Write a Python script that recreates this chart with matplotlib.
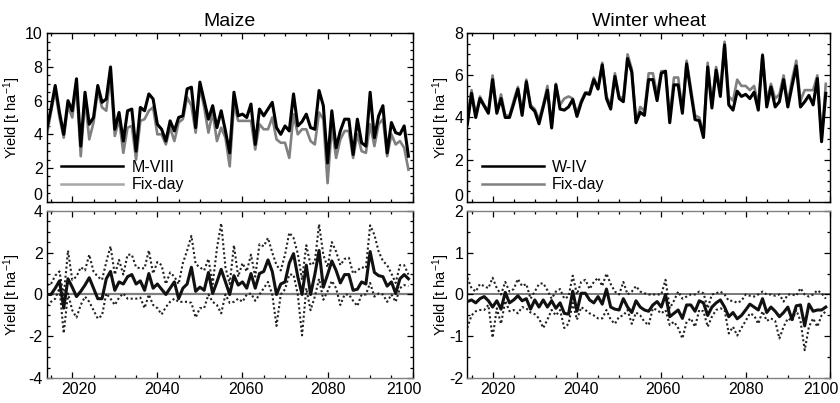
import numpy as np
import matplotlib
matplotlib.use("Agg")
import matplotlib.pyplot as plt
import matplotlib.ticker as ticker
from matplotlib.lines import Line2D
from matplotlib.transforms import ScaledTranslation

plt.rcParams['font.family'] = ['Liberation Sans', 'DejaVu Sans']
plt.rcParams['mathtext.default'] = 'regular'

# ---- data ----
years = np.arange(2014, 2100)

maize_mviii = [4.3, 5.5, 6.9, 5.3, 4.0, 6.0, 5.4, 7.3, 3.3, 6.5,
               4.6, 5.0, 6.9, 5.9, 6.1, 8.0, 4.3, 5.3, 3.6, 5.4,
               5.5, 3.0, 5.6, 5.4, 6.4, 6.1, 4.6, 4.3, 3.6, 4.8,
               4.2, 5.0, 5.1, 6.7, 6.8, 4.4, 7.1, 6.0, 4.9, 5.7,
               4.4, 5.4, 4.2, 2.9, 6.5, 5.1, 5.2, 5.0, 5.8, 3.4,
               5.5, 5.1, 5.5, 5.9, 4.4, 4.0, 4.5, 4.2, 6.4, 4.5,
               4.75, 5.2, 4.4, 4.3, 6.6, 5.7, 2.3, 5.4, 3.2, 4.2,
               4.9, 4.9, 2.8, 4.9, 3.5, 3.3, 6.5, 3.8, 5.1, 5.7,
               2.9, 4.7, 4.1, 4.0, 4.5, 2.7]
maize_fixday = [3.9, 5.3, 6.6, 5.0, 3.8, 5.7, 5.0, 6.9, 2.7, 6.1,
                3.7, 4.7, 6.6, 5.6, 5.4, 7.5, 3.9, 4.9, 2.9, 4.4,
                4.5, 2.5, 4.8, 4.9, 5.4, 5.6, 4.0, 4.0, 3.4, 4.4,
                3.6, 4.7, 4.9, 6.2, 5.7, 4.1, 6.8, 5.6, 4.1, 5.3,
                3.6, 4.4, 3.8, 2.1, 5.8, 4.8, 4.8, 4.8, 4.8, 3.1,
                4.6, 4.3, 4.3, 5.0, 3.7, 3.5, 3.5, 2.6, 5.2, 4.0,
                4.3, 4.3, 3.6, 3.4, 5.3, 4.9, 1.1, 4.5, 2.6, 3.7,
                4.2, 4.2, 2.6, 4.0, 3.0, 2.9, 4.6, 3.3, 4.6, 4.9,
                2.7, 4.0, 3.4, 3.6, 3.2, 1.9]
maize_diff = [0.0, 0.0, 0.3, 0.65, -0.65, 0.75, 0.35, -0.1, 0.15, 0.45,
              0.8, 0.3, -0.2, -0.2, 0.75, 1.1, 0.2, 0.6, 0.5, 0.85,
              0.95, 0.5, 0.65, 0.2, 1.0, 0.3, 0.5, 0.25, 0.0, 0.3,
              0.6, -0.2, 0.3, 0.5, 1.3, 0.15, 0.35, 0.2, 1.05, 0.05,
              0.6, 1.2, 0.6, 0.0, 0.9, 0.45, 0.6, 0.3, 1.0, 0.3,
              1.0, 1.1, 1.65, 1.1, 0.0, 0.5, 0.6, 1.5, 1.95, 0.85,
              0.0, 1.4, 0.0, 0.95, 2.1, 0.35, 0.95, 1.6, 1.15, 0.55,
              0.95, 0.95, 0.2, 0.25, 0.6, 0.5, 2.05, 1.05, 0.9, 0.85,
              0.4, 0.6, 0.05, 0.75, 0.95, 0.75]
maize_diff_hi = [0.45, 0.5, 0.9, 1.1, -0.1, 2.1, 0.7, 0.85, 1.3, 1.15,
                 1.9, 1.1, 0.85, 0.7, 1.55, 2.3, 0.95, 1.65, 0.95, 1.9,
                 1.9, 1.3, 1.25, 1.25, 2.1, 1.0, 1.55, 1.4, 0.5, 1.05,
                 0.85, 0.5, 1.5, 2.1, 2.8, 1.45, 1.3, 1.15, 1.7, 0.5,
                 2.2, 3.4, 1.3, 0.5, 2.35, 0.85, 1.5, 1.1, 1.9, 0.85,
                 2.4, 2.3, 2.7, 2.0, 1.4, 1.15, 1.9, 2.95, 2.7, 1.95,
                 0.7, 2.35, 1.4, 1.55, 3.35, 1.9, 1.3, 2.5, 2.05, 1.4,
                 1.7, 1.75, 1.0, 1.15, 1.3, 1.25, 3.3, 2.85, 2.05, 1.6,
                 1.4, 1.0, 0.55, 1.4, 1.4, 0.95]
maize_diff_lo = [-0.5, -0.35, -0.2, 0.3, -1.85, 0.05, -0.75, -1.1, -0.5, -0.1,
                 -0.35, -0.75, -1.15, -1.0, 0.05, -0.2, -0.5, -0.15, 0.05, -0.2,
                 -0.2, -0.2, -0.15, -0.65, 0.0, -0.5, -0.65, -0.95, -0.6, -0.35,
                 -0.2, -0.35, -0.35, -0.35, -0.4, -1.1, -0.65, -0.65, 0.0, -0.35,
                 -0.5, -0.9, 0.0, -0.4, -0.35, -0.2, -0.35, 0.0, 0.05, -0.3,
                 0.0, 0.3, 0.6, 0.0, -1.5, 0.0, 0.25, 0.95, 0.95, 0.0,
                 -1.95, 0.3, -0.75, -0.1, 0.75, -0.25, 0.15, 0.65, 0.3, -0.5,
                 0.0, 0.0, -0.3, -0.55, 0.0, 0.0, 0.55, -0.1, 0.05, 0.0,
                 -0.35, 0.0, -0.35, 0.3, 0.45, 0.4]

wheat_wiv = [3.65, 5.15, 4.0, 4.9, 4.55, 4.2, 5.8, 4.2, 4.9, 4.0,
             4.0, 4.65, 5.35, 4.1, 5.7, 4.5, 4.3, 3.7, 4.5, 5.3,
             3.5, 5.55, 4.4, 4.35, 4.5, 4.85, 4.05, 4.7, 5.15, 5.1,
             5.8, 5.35, 6.5, 4.9, 4.4, 5.95, 4.9, 4.75, 6.8, 6.15,
             3.75, 4.25, 4.1, 5.8, 5.8, 4.8, 6.1, 6.2, 3.75, 5.55,
             5.55, 4.2, 6.55, 5.2, 3.9, 3.85, 3.05, 6.4, 4.45, 6.25,
             5.0, 7.45, 4.6, 4.35, 5.25, 5.0, 5.1, 4.9, 5.2, 4.35,
             6.95, 4.5, 5.45, 4.5, 4.75, 5.8, 4.5, 5.5, 6.45, 4.5,
             4.75, 5.05, 4.6, 5.85, 2.85, 5.15]
wheat_fixday = [3.85, 5.3, 4.1, 5.0, 4.6, 4.3, 6.0, 4.3, 5.1, 4.1,
                4.1, 4.8, 5.45, 4.2, 5.8, 4.6, 4.4, 3.9, 4.6, 5.5,
                3.6, 5.6, 4.6, 4.9, 5.0, 4.9, 4.2, 4.8, 5.2, 5.2,
                5.9, 5.4, 6.6, 5.0, 4.6, 6.1, 5.0, 4.9, 7.0, 6.3,
                3.8, 4.5, 4.3, 6.1, 6.1, 5.1, 6.2, 6.2, 4.0, 5.9,
                5.9, 4.3, 6.7, 5.4, 4.1, 4.0, 3.2, 6.6, 4.6, 6.4,
                5.3, 7.6, 5.0, 4.8, 5.8, 5.5, 5.5, 5.3, 5.5, 4.6,
                7.0, 4.8, 5.6, 4.9, 5.1, 6.0, 4.7, 5.8, 6.7, 4.8,
                5.3, 5.3, 5.3, 6.0, 3.0, 5.6]
wheat_diff = [-0.17, -0.13, -0.2, -0.1, -0.05, -0.15, -0.3, -0.15, -0.35, 0.05,
              -0.2, -0.13, -0.03, -0.15, -0.1, -0.35, -0.13, -0.3, -0.13, -0.3,
              -0.15, -0.33, -0.2, -0.45, -0.47, 0.08, -0.4, 0.03, 0.03, -0.13,
              -0.2, -0.05, -0.23, 0.13, -0.3, -0.35, -0.37, -0.1, -0.3, -0.43,
              -0.15, -0.3, -0.37, -0.4, -0.25, -0.17, -0.3, 0.0, -0.53, -0.45,
              -0.37, -0.57, -0.25, -0.25, -0.4, -0.15, -0.2, -0.5, -0.3, -0.2,
              -0.13, -0.3, -0.53, -0.43, -0.58, -0.5, -0.37, -0.23, -0.3, -0.37,
              -0.1, -0.43, -0.3, -0.4, -0.53, -0.43, -0.3, -0.6, -0.27, -0.25,
              -0.75, -0.23, -0.4, -0.37, -0.37, -0.3]
wheat_diff_hi = [0.4, 0.15, 0.07, 0.25, 0.2, 0.15, 0.4, 0.15, 0.0, 0.3,
                 0.07, 0.13, 0.37, 0.2, 0.25, -0.1, 0.07, 0.25, 0.27, 0.1,
                 -0.1, 0.07, 0.13, -0.1, -0.05, 0.45, 0.0, 0.3, 0.35, 0.13,
                 0.3, 0.4, 0.2, 0.5, 0.25, 0.07, 0.0, 0.3, 0.0, 0.07,
                 0.2, 0.07, 0.03, 0.0, 0.0, 0.0, 0.0, 0.35, -0.33, -0.15,
                 0.07, -0.1, -0.05, 0.0, 0.0, 0.07, 0.03, -0.33, 0.0, 0.03,
                 0.07, 0.0, -0.15, -0.15, -0.2, -0.15, 0.0, -0.03, -0.05, 0.0,
                 0.07, 0.0, 0.0, -0.03, 0.0, -0.17, 0.0, 0.0, -0.03, 0.15,
                 0.0, -0.05, 0.0, 0.1, 0.03, -0.1]
wheat_diff_lo = [-0.8, -0.5, -0.4, -0.37, -0.37, -0.25, -1.03, -0.33, -0.7, -0.15,
                 -0.4, -0.37, -0.45, -0.3, -0.33, -0.43, -0.47, -0.57, -0.8, -0.6,
                 -0.37, -0.5, -0.37, -0.8, -0.7, -0.2, -0.6, -0.3, -0.37, -0.45,
                 -0.5, -0.57, -0.57, -0.37, -0.6, -0.7, -0.53, -0.5, -0.37, -0.7,
                 -0.43, -0.5, -0.65, -0.73, -0.33, -0.37, -0.45, -0.37, -0.73, -0.65,
                 -0.8, -1.05, -0.65, -0.57, -0.77, -0.37, -0.4, -0.77, -0.53, -0.37,
                 -0.33, -0.37, -0.93, -0.77, -0.98, -0.8, -0.63, -0.45, -0.5, -0.7,
                 -0.4, -0.63, -0.57, -0.63, -1.05, -0.77, -0.57, -0.63, -0.37, -0.63,
                 -1.33, -0.77, -0.57, -0.77, -0.5, -0.4]

x_ticks = [2020, 2040, 2060, 2080, 2100]

GRAY = "#808080"
FS = 11.5

fig = plt.figure(figsize=(8.4, 4.03), dpi=100)
ax_mt = fig.add_axes([0.0556, 0.4995, 0.4357, 0.4179])
ax_mb = fig.add_axes([0.0556, 0.0613, 0.4357, 0.4159])
ax_wt = fig.add_axes([0.5563, 0.4995, 0.4318, 0.4179])
ax_wb = fig.add_axes([0.5563, 0.0613, 0.4318, 0.4159])


def shift(label, dx=0, dy=0):
    # nudge a tick label by some pixels (dpi = 100)
    label.set_transform(label.get_transform() +
                        ScaledTranslation(dx / 100, dy / 100, fig.dpi_scale_trans))


def style(ax, ylim, ystep, xlabels, ylab_x, xshift, zero_up):
    ax.set_xlim(2014, 2100)
    ax.set_ylim(*ylim)
    ax.xaxis.set_major_locator(ticker.FixedLocator(x_ticks))
    ax.xaxis.set_minor_locator(ticker.MultipleLocator(5))
    ax.yaxis.set_major_locator(ticker.FixedLocator(np.arange(ylim[0], ylim[1] + 0.01, ystep)))
    ax.yaxis.set_minor_locator(ticker.MultipleLocator(0.5))
    ax.yaxis.set_major_formatter(ticker.FormatStrFormatter('%d'))
    ax.tick_params(which='both', direction='in', top=True, right=True,
                   labelsize=FS, labelbottom=xlabels, width=0.9)
    ax.tick_params(which='major', length=4, pad=3)
    ax.tick_params(which='minor', length=2)
    for sp in ax.spines.values():
        sp.set_linewidth(1.0)
    ax.set_ylabel('Yield [t ha$^{-1}$]', fontsize=10.5)
    ax.yaxis.set_label_coords(ylab_x, 0.5)
    if xlabels:
        for t, dx in zip(ax.xaxis.get_major_ticks(), xshift):
            shift(t.label1, dx=dx)
    if zero_up:
        shift(ax.yaxis.get_major_ticks()[0].label1, dy=zero_up)


def diff_panel(ax, d, hi, lo, zc, zw):
    ax.axhline(0, color=zc, lw=zw, zorder=1)
    for s in ('top', 'bottom'):
        ax.spines[s].set_color(GRAY)
        ax.spines[s].set_linewidth(1.8)
    ax.plot(years, hi, color='#222222', lw=1.5, ls=(0, (1, 1.2)), zorder=2)
    ax.plot(years, lo, color='#222222', lw=1.5, ls=(0, (1, 1.2)), zorder=2)
    ax.plot(years, d, color='#111111', lw=2.2, zorder=3)


# Maize
ax_mt.plot(years, maize_fixday, color=GRAY, lw=1.9)
ax_mt.plot(years, maize_mviii, color='#000000', lw=2.2)
style(ax_mt, (0, 10), 2, False, -0.065, None, 8)
ax_mt.set_title('Maize', fontsize=14, pad=5)
ax_mt.legend(handles=[Line2D([], [], color='k', lw=1.8),
                      Line2D([], [], color='#a6a6a6', lw=1.8)],
             labels=['M-VIII', 'Fix-day'], loc='lower left',
             bbox_to_anchor=(0.0, -0.03), frameon=False, fontsize=FS,
             handlelength=3.9, handletextpad=0.5, labelspacing=0.15)

diff_panel(ax_mb, maize_diff, maize_diff_hi, maize_diff_lo, GRAY, 1.6)
style(ax_mb, (-4, 4), 2, True, -0.065, [7, 5, 3, 0, -9], 0)

# Winter wheat
ax_wt.plot(years, wheat_fixday, color=GRAY, lw=1.9)
ax_wt.plot(years, wheat_wiv, color='#000000', lw=2.2)
style(ax_wt, (0, 8), 2, False, -0.041, None, 7)
ax_wt.set_title('Winter wheat', fontsize=14, pad=5)
ax_wt.legend(handles=[Line2D([], [], color='k', lw=1.8),
                      Line2D([], [], color=GRAY, lw=1.8)],
             labels=['W-IV', 'Fix-day'], loc='lower left',
             bbox_to_anchor=(0.0, -0.03), frameon=False, fontsize=FS,
             handlelength=3.9, handletextpad=0.5, labelspacing=0.15)

diff_panel(ax_wb, wheat_diff, wheat_diff_hi, wheat_diff_lo, '#555555', 1.1)
style(ax_wb, (-2, 2), 1, True, -0.041, [5, 4, 2, 0, -9], 0)

fig.savefig('out.png', dpi=100)
